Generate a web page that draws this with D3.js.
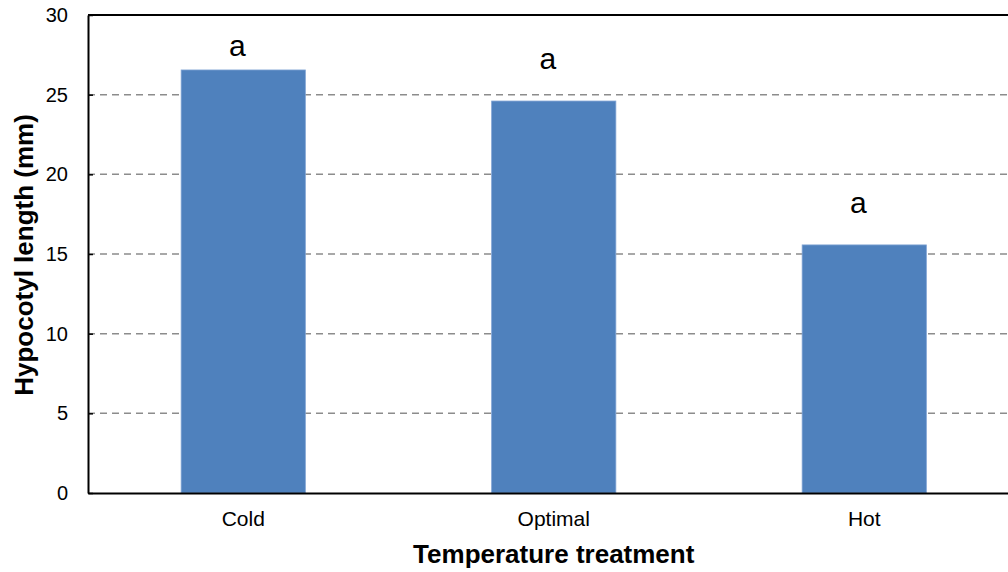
<!DOCTYPE html>
<html>
<head>
<meta charset="utf-8">
<script src="https://cdn.jsdelivr.net/npm/d3@7"></script>
<style>
  body { margin: 0; background: #fff; }
  svg { display: block; font-family: "Liberation Sans", Arial, sans-serif; }
</style>
</head>
<body>
<script>
'use strict';

// values
const categories = ['Cold', 'Optimal', 'Hot'];
const lengths = [26.55, 24.6, 15.57];
const letters = ['a', 'a', 'a'];
const letterLevels = [27.4, 26.6, 17.55];   // where the letters sit, in mm
const yTicks = [0, 5, 10, 15, 20, 25, 30];

(function() {
  const width = 1008, height = 572;
  const left = 88, top = 15, bottom = 493;
  const step = 310.5;

  const svg = d3.select('body')
    .append('svg')
    .attr('width', width)
    .attr('height', height);

  const x = d3.scaleBand()
    .domain(categories)
    .range([left, left + step * categories.length])
    .paddingInner(0.6)
    .paddingOuter(0.3);

  const y = d3.scaleLinear()
    .domain([0, 30])
    .range([bottom, top]);

  // dashed gridlines
  svg.append('g')
    .selectAll('line')
    .data(yTicks.filter((t) => t > 0 && t < 30))
    .enter()
    .append('line')
      .attr('x1', left)
      .attr('x2', left + step * categories.length)
      .attr('y1', (d) => y(d))
      .attr('y2', (d) => y(d))
      .attr('stroke', '#8c8c8c')
      .attr('stroke-width', 1.5)
      .attr('stroke-dasharray', '7,5');

  // bars
  svg.append('g')
    .selectAll('rect')
    .data(lengths)
    .enter()
    .append('rect')
      .attr('x', (d, i) => x(categories[i]))
      .attr('y', (d) => y(d))
      .attr('width', x.bandwidth())
      .attr('height', (d) => y(0) - y(d))
      .attr('fill', '#4f81bd')
      .attr('stroke', '#7fa3d3')
      .attr('stroke-width', 0.8);

  // significance letters (sit a little left of the bar centre, as in the original)
  svg.append('g')
    .selectAll('text')
    .data(letters)
    .enter()
    .append('text')
      .attr('x', (d, i) => x(categories[i]) + x.bandwidth() / 2 - 6)
      .attr('y', (d, i) => y(letterLevels[i]))
      .attr('text-anchor', 'middle')
      .style('font-size', '30px')
      .text((d) => d);

  // top border
  svg.append('line')
    .attr('x1', left)
    .attr('x2', left + step * categories.length)
    .attr('y1', top)
    .attr('y2', top)
    .attr('stroke', '#000')
    .attr('stroke-width', 2);

  // y axis
  const yAxis = d3.axisLeft(y)
    .tickValues(yTicks)
    .tickSizeInner(-5)
    .tickSizeOuter(0)
    .tickPadding(20);
  const gy = svg.append('g')
    .attr('transform', 'translate(' + left + ',0)')
    .call(yAxis);
  gy.select('.domain').attr('stroke-width', 2);
  gy.selectAll('.tick line').attr('stroke-width', 1.5);
  gy.selectAll('.tick text')
    .style('font-size', '20px')
    .attr('fill', '#000');

  // x axis
  const xAxis = d3.axisBottom(x)
    .tickSize(0)
    .tickPadding(18);
  const gx = svg.append('g')
    .attr('transform', 'translate(0,' + bottom + ')')
    .call(xAxis);
  gx.select('.domain').attr('stroke-width', 2);
  gx.selectAll('.tick text')
    .style('font-size', '21px')
    .attr('fill', '#000');

  // axis titles
  svg.append('text')
    .attr('x', left + step * 1.5)
    .attr('y', 563)
    .attr('text-anchor', 'middle')
    .style('font-size', '26px')
    .style('font-weight', 'bold')
    .text('Temperature treatment');

  svg.append('text')
    .attr('transform', 'translate(33, 255)rotate(-90)')
    .attr('text-anchor', 'middle')
    .style('font-size', '26px')
    .style('font-weight', 'bold')
    .text('Hypocotyl length (mm)');
})();
</script>
</body>
</html>
